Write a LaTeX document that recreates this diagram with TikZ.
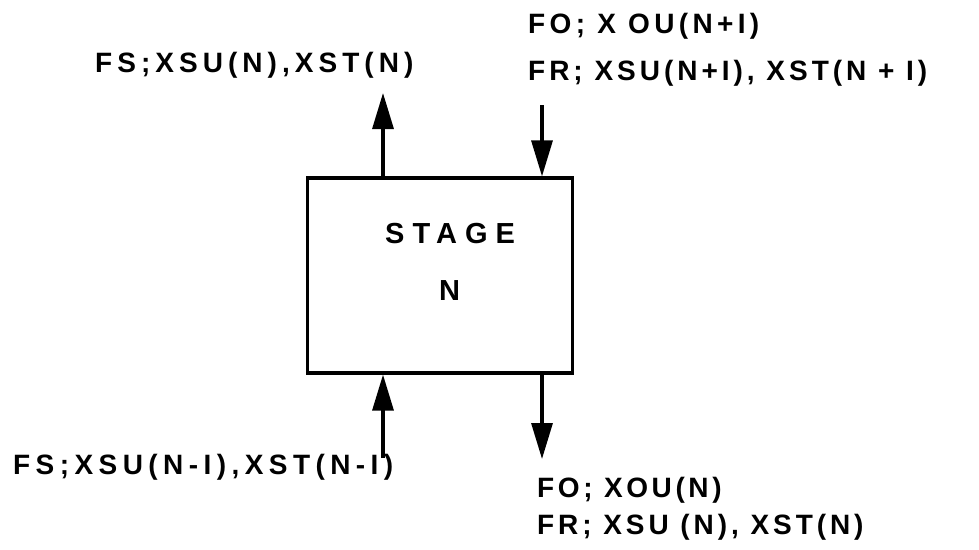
\documentclass[tikz,border=0pt]{standalone}
\usepackage{fontspec}
\setmainfont{Liberation Sans}
\usetikzlibrary{arrows.meta}
\newcommand{\ls}[1]{\addfontfeatures{LetterSpace=#1}}
\begin{document}
\begin{tikzpicture}[x=1pt,y=-1pt,
  lbl/.style={inner sep=0pt,anchor=base west,font=\fontsize{28}{30}\selectfont\bfseries},
  conn/.style={line width=3.2pt,-{Triangle[length=36pt,width=21pt]}}]
\useasboundingbox (0,0) rectangle (979,549);
\node[draw,line width=3.2pt,minimum width=265pt,minimum height=195pt,inner sep=0pt] (box) at (440,275.5) {};
\node[lbl,font=\fontsize{29}{30}\selectfont\bfseries] (stage) at (385,243) {\ls{27.7}STAGE};
\node[lbl,font=\fontsize{29}{30}\selectfont\bfseries] (n) at (439,300) {N};
\coordinate (tl) at (383,93);
\coordinate (tr) at (542,105);
\coordinate (bl) at (383,458);
\coordinate (br) at (542,459);
\draw[conn] (box.north -| tl) -- (tl);
\draw[conn] (tr) -- (box.north -| tr);
\draw[conn] (bl) -- (box.south -| bl);
\draw[conn] (box.south -| br) -- (br);
\node[lbl] (t1) at (95,72) {\ls{18}FS;XSU(N),XST(N)};
\node[lbl] (t2) at (528,33) {\ls{15.6}FO; X OU(N+I)};
\node[lbl] (t3) at (528,80) {\ls{14.2}FR; XSU(N+I), XST(N + I)};
\node[lbl] (t4) at (13,474) {\ls{19.4}FS;XSU(N-I),XST(N-I)};
\node[lbl] (t5) at (537,497) {\ls{12.9}FO; XOU(N)};
\node[lbl] (t6) at (537,534) {\ls{14}FR; XSU (N), XST(N)};
\end{tikzpicture}
\end{document}
